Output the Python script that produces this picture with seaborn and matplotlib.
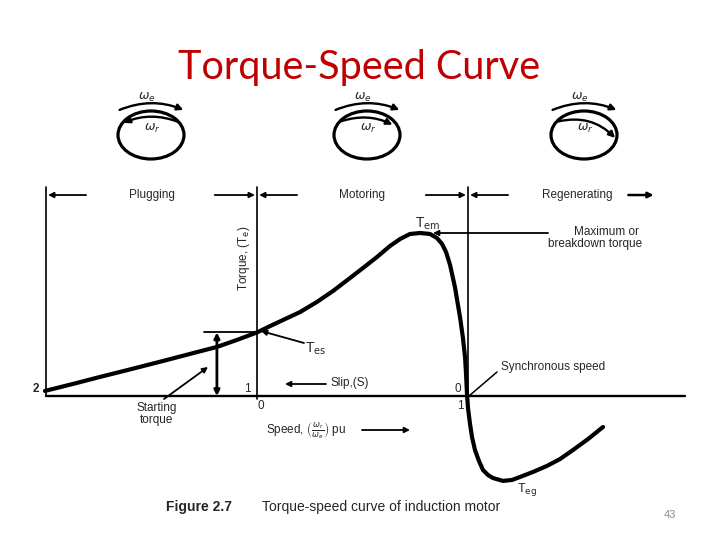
####################################################
# IMPORT STATEMENTS
####################################################
import numpy as np
import pandas as pd

import seaborn as sns
import matplotlib.pyplot as plt
from matplotlib.patches import Ellipse, FancyArrowPatch
from matplotlib.transforms import offset_copy

####################################################
# DATA
####################################################
# torque-speed curve, speed in pu (wr/we), torque in pu of breakdown torque
speed_pu = [-1.005, -0.863, -0.744, -0.602, -0.445, -0.318, -0.190, -0.095,
            0.0, 0.062, 0.123, 0.204, 0.284, 0.360, 0.441, 0.502, 0.569,
            0.630, 0.678, 0.725, 0.773, 0.820, 0.853, 0.877, 0.896, 0.915,
            0.938, 0.962, 0.976, 0.986, 0.991, 0.995, 1.000, 1.009, 1.019,
            1.033, 1.052, 1.071, 1.095, 1.118, 1.166, 1.209, 1.246, 1.308,
            1.374, 1.436, 1.498, 1.569, 1.640]
torque_pu = [0.031, 0.077, 0.117, 0.163, 0.215, 0.258, 0.301, 0.344,
             0.390, 0.429, 0.466, 0.515, 0.577, 0.644, 0.724, 0.785, 0.853,
             0.920, 0.963, 0.994, 1.000, 0.994, 0.969, 0.933, 0.883, 0.804,
             0.669, 0.485, 0.356, 0.239, 0.129, 0.018, -0.074, -0.166, -0.252,
             -0.331, -0.399, -0.454, -0.485, -0.503, -0.521, -0.515, -0.497,
             -0.466, -0.429, -0.387, -0.331, -0.264, -0.190]

zero_speeds = [-1.0, 0.0, 1.0]          # slip 2, 1, 0
slip_labels = ["2", "1", "0"]
speed_values = [0.0, 1.0]
speed_labels = ["0", "1"]
region_names = ["Plugging", "Motoring", "Regenerating"]
axis_end = 2.03
divider_top = 1.28
starting_speed = -0.19
starting_torque = 0.39

####################################################
# LAYOUT
####################################################
W, H = 720, 540
X0PX, XSCALE = 257, 211
Y0PX, YSCALE = 396, 163
XLIM = (-1.2, 2.1)
YLIM = (-0.85, 1.35)
FONT = "Liberation Sans"

sns.set(style="white")
plt.rcParams["font.family"] = [FONT, "DejaVu Sans"]


def data_axes(fig):
    left = X0PX + XSCALE * XLIM[0]
    right = X0PX + XSCALE * XLIM[1]
    top = Y0PX - YSCALE * YLIM[1]
    bottom = Y0PX - YSCALE * YLIM[0]
    ax = fig.add_axes([left / W, 1 - bottom / H, (right - left) / W, (bottom - top) / H])
    return ax


def arrow(ax, start, end, style="-|>", lw=1.3, ms=8, **kw):
    ax.annotate("", xy=end, xytext=start,
                arrowprops=dict(arrowstyle=style, color="black", lw=lw,
                                mutation_scale=ms, shrinkA=0, shrinkB=0, **kw))


def draw_rotors(ov):
    circle_x = [151, 367, 584]
    inner = [((30, 123), (-30, 124), 0.22),
             ((-28, 122), (28, 126), -0.22),
             ((-28, 122), (33, 140), -0.3)]
    for cx, (a, b, rad) in zip(circle_x, inner):
        ov.add_patch(Ellipse((cx, 135), 66, 48, fill=False, lw=2.3, color="black"))
        ov.add_patch(FancyArrowPatch((cx - 34, 111), (cx + 35, 111),
                                     connectionstyle="arc3,rad=-0.22",
                                     arrowstyle="-|>", mutation_scale=9,
                                     lw=1.7, color="black"))
        ov.add_patch(FancyArrowPatch((cx + a[0], a[1]), (cx + b[0], b[1]),
                                     connectionstyle="arc3,rad=%s" % rad,
                                     arrowstyle="-|>", mutation_scale=9,
                                     lw=1.7, color="black"))
        ov.text(cx - 4, 97, r"$\omega_e$", fontsize=9, ha="center", va="center")
        ov.text(cx + 1, 128, r"$\omega_r$", fontsize=9, ha="center", va="center")


def torque_speed():
    fig = plt.figure(figsize=(7.2, 5.4), dpi=100)
    fig.patch.set_facecolor("white")

    # pixel overlay for the decorations
    ov = fig.add_axes([0, 0, 1, 1])
    ov.set_xlim(0, W)
    ov.set_ylim(H, 0)
    ov.axis("off")

    ax = data_axes(fig)
    df = pd.DataFrame({"speed": speed_pu, "torque": torque_pu})
    sns.lineplot(data=df, x="speed", y="torque", sort=False, estimator=None,
                 color="black", lw=3, ax=ax,
                 solid_joinstyle="round", solid_capstyle="round")
    ax.set_xlim(*XLIM)
    ax.set_ylim(*YLIM)
    ax.axis("off")

    # axes and region dividers
    ax.plot([zero_speeds[0], axis_end], [0, 0], color="black", lw=1.7)
    for s in zero_speeds:
        ax.plot([s, s], [-0.02 if s == 0 else 0, divider_top], color="black", lw=1.2)

    # region labels with arrows
    ty = 1.233
    for i, name in enumerate(region_names):
        s0 = zero_speeds[i]
        mid = s0 + 0.5 if i < 2 else 1.52
        ax.text(mid, ty, name, fontsize=8.5, ha="center", va="center")
        arrow(ax, (s0 + 0.19, ty), (s0 + 0.01, ty))
        if i < 2:
            arrow(ax, (zero_speeds[i + 1] - 0.2, ty), (zero_speeds[i + 1] - 0.01, ty))
        else:
            arrow(ax, (1.76, ty), (1.88, ty), lw=1.8)

    # slip / speed tick labels
    for s, lab in zip(zero_speeds, slip_labels):
        tr = offset_copy(ax.transData, fig=fig, x=-10, y=7, units="dots")
        ax.text(s, 0, lab, transform=tr, fontsize=8.5, ha="center", va="center",
                fontweight="bold" if lab == "2" else "normal")
    for s, lab, dx in zip(speed_values, speed_labels, [4, -8]):
        tr = offset_copy(ax.transData, fig=fig, x=dx, y=-10, units="dots")
        ax.text(s, 0, lab, transform=tr, fontsize=8.5, ha="center", va="center")

    # starting torque
    ax.plot([-0.251, 0], [starting_torque, starting_torque], color="black", lw=1.3)
    arrow(ax, (starting_speed, starting_torque), (starting_speed, 0),
          style="<|-|>", lw=2, ms=8)

    # annotations
    ov.text(428, 224, r"T$_{\rm em}$", fontsize=10, ha="center", va="center")
    ov.text(606, 232, "Maximum or", fontsize=8.5, ha="center", va="center")
    ov.text(595, 244, "breakdown torque", fontsize=8.5, ha="center", va="center")
    arrow(ov, (548, 233), (433, 233))

    ov.text(244, 258, r"Torque, (T$_{\rm e}$)", fontsize=8.5, rotation=90,
            ha="center", va="center")

    ov.text(316, 349, r"T$_{\rm es}$", fontsize=10, ha="center", va="center")
    arrow(ov, (304, 343), (261, 331))

    ov.text(553, 367, "Synchronous speed", fontsize=8.5, ha="center", va="center")
    ov.plot([497, 469], [372, 396], color="black", lw=1.1)

    ov.text(350, 383, "Slip,(S)", fontsize=8.5, ha="center", va="center")
    arrow(ov, (326, 384), (285, 384))

    ov.text(157, 414, "Starting\ntorque", fontsize=8.5, ha="center", va="center",
            linespacing=0.95)
    arrow(ov, (164, 399), (208, 367))

    ov.text(266, 431, r"Speed, $\left(\frac{\omega_r}{\omega_e}\right)$ pu",
            fontsize=8.5, ha="left", va="center")
    arrow(ov, (362, 430), (410, 430))

    ov.text(527, 490, r"T$_{\rm eg}$", fontsize=9, ha="center", va="center")

    ov.text(166, 507, "Figure 2.7", fontsize=10, fontweight="bold", ha="left", va="center")
    ov.text(262, 507, "Torque-speed curve of induction motor", fontsize=10,
            ha="left", va="center")

    draw_rotors(ov)

    ov.text(359, 68, "Torque-Speed Curve", fontsize=28.5, color="#C00000",
            ha="center", va="center", family=["Lato", "DejaVu Sans"])
    ov.text(670, 515, "43", fontsize=8, color="#8c8c8c", ha="center", va="center")

    fig.savefig("out.png", dpi=100, facecolor="white")


####################################################
# MAIN
####################################################
if __name__ == "__main__":

    torque_speed()
